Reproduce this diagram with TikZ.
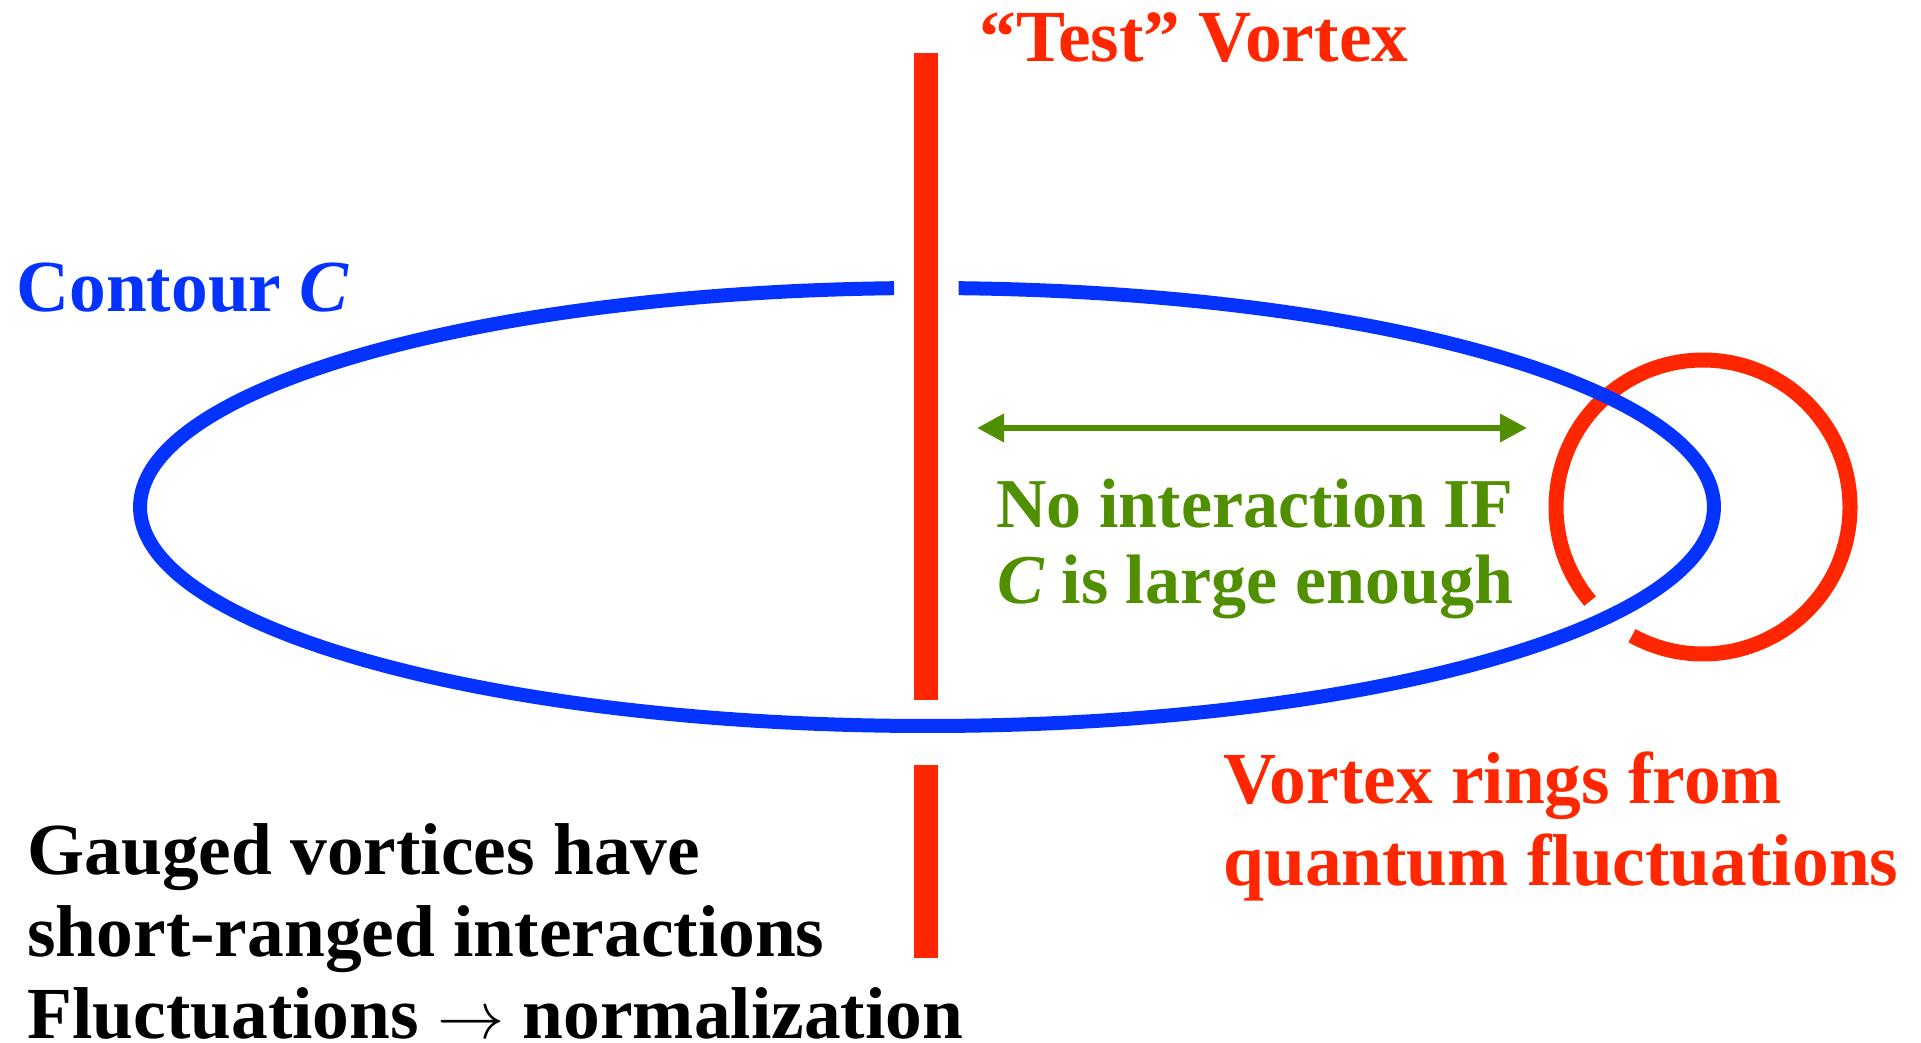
\documentclass[tikz,border=0pt]{standalone}
\usepackage{fontspec}
\setmainfont{Liberation Serif}
\usepackage{tikz}
\usetikzlibrary{arrows.meta, calc}
\definecolor{vortex}{RGB}{255, 38, 0}
\definecolor{contour}{RGB}{4, 51, 255}
\definecolor{safe}{RGB}{79, 143, 0}
\tikzstyle{bigtext} = [inner sep=0pt, anchor=base west, font=\fontsize{36.7}{41}\selectfont\bfseries]
\tikzstyle{greentext} = [inner sep=0pt, anchor=base, align=center, text=safe, font=\fontsize{35}{38}\selectfont\bfseries]
\tikzstyle{vortexline} = [draw=vortex, line width=12pt]
\tikzstyle{ringline} = [draw=vortex, line width=7.5pt]
\tikzstyle{contourline} = [draw=contour, line width=7pt]
\tikzstyle{arrow} = [draw=safe, line width=3.3pt, {Triangle[length=13.5pt,width=13.5pt]}-{Triangle[length=13.5pt,width=13.5pt]}]
\newcommand{\tendsto}{\scalebox{1.35}{$\rightarrow$}}

\begin{document}
\begin{tikzpicture}[x=0.5pt, y=-0.5pt]
    \useasboundingbox (0,0) rectangle (1921,1043);

    % "Test" vortex, broken where C passes in front
    \coordinate (ctr) at (927,507);
    \draw[vortexline] (926,53) -- (926,700);
    \draw[vortexline] (926,765) -- (926,958);

    % Vortex ring
    \coordinate (ring) at (1703,507);
    \draw[ringline] ($(ring)+(140.2:147)$) arc[start angle=140.2, end angle=478.9, radius=147];

    % Contour C
    \draw[contourline] ($(ctr)+(272.3:787 and 219)$) arc[start angle=272.3, end angle=627.6, x radius=787, y radius=219];

    % Distance arrow
    \coordinate (near) at (977,428);
    \coordinate (far) at (1527,428);
    \draw[arrow] (near) -- (far);

    % Labels (multi-line nodes sit on their last baseline)
    \node[bigtext, text=vortex] (testlbl) at (979,62) {“Test” Vortex};
    \node[bigtext, text=contour] (contourlbl) at (16,311) {Contour \textit{C}};
    \node[greentext] (nointlbl) at (1255,603) {No interaction IF\\\textit{C} is large enough};
    \node[bigtext, text=vortex, align=left] (ringlbl) at (1223,885) {Vortex rings from\\quantum fluctuations};
    \node[bigtext, align=left] (gaugelbl) at (27,1038) {Gauged vortices have\\short-ranged interactions\\Fluctuations \tendsto{} normalization};

\end{tikzpicture}
\end{document}
